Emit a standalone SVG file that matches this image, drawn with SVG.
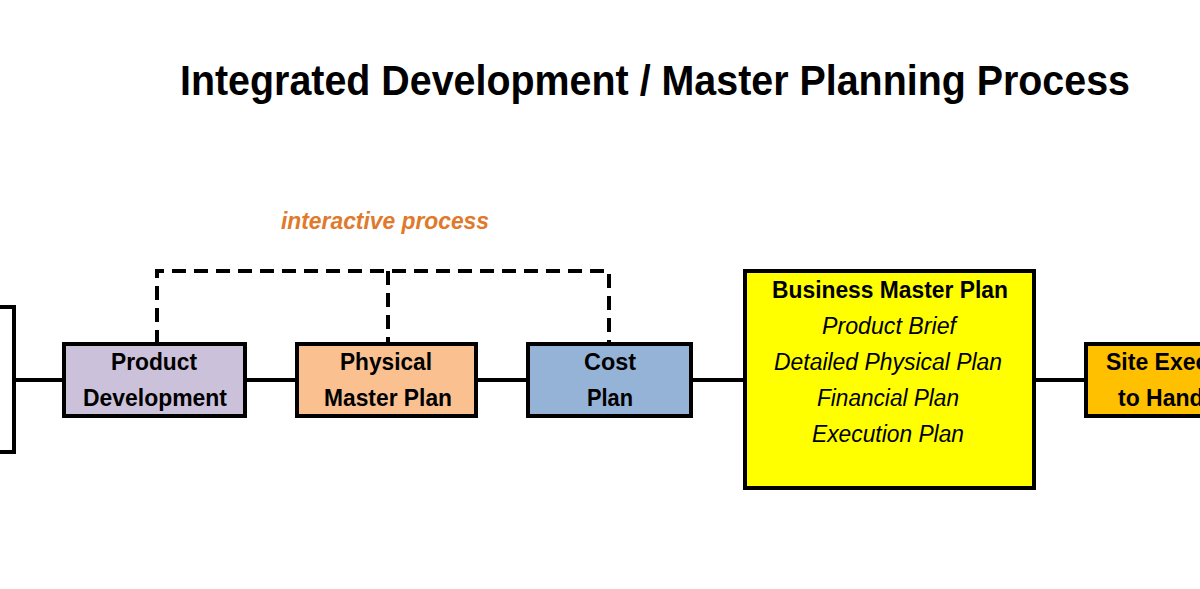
<svg xmlns="http://www.w3.org/2000/svg" width="1200" height="589" viewBox="0 0 1200 589">
<style>
.box{stroke:#000;stroke-width:4}
.t{font-family:"Liberation Sans",Arial,sans-serif;font-weight:bold;font-size:23px;fill:#000;text-anchor:middle}
.i{font-family:"Liberation Sans",Arial,sans-serif;font-style:italic;font-size:23px;fill:#000;text-anchor:middle}
.ln{stroke:#000;stroke-width:4;fill:none}
.dash{stroke:#000;stroke-width:4;fill:none;stroke-dasharray:14,8}
</style>
<rect width="1200" height="589" fill="#fff"/>
<text x="655" y="95" font-family="Liberation Sans,Arial,sans-serif" font-weight="bold" font-size="42" text-anchor="middle" textLength="950" lengthAdjust="spacingAndGlyphs">Integrated Development / Master Planning Process</text>
<text x="385" y="229" font-family="Liberation Sans,Arial,sans-serif" font-weight="bold" font-style="italic" font-size="23" fill="#DF7A2C" text-anchor="middle" textLength="208" lengthAdjust="spacingAndGlyphs">interactive process</text>
<g id="connectors">
<path class="ln" d="M0,307 H14 V452 H0"/>
<path class="ln" d="M14,380 H64"/>
<path class="ln" d="M245,380 H297"/>
<path class="ln" d="M476,380 H528"/>
<path class="ln" d="M691,380 H745"/>
<path class="ln" d="M1034,380 H1086"/>
<path class="dash" d="M157,344 V271 H609 V344"/>
<path class="dash" d="M388,271 V344"/>
</g>
<g id="product-development">
<rect class="box" x="64" y="344" width="181" height="72" fill="#CCC1DA"/>
<text class="t" x="154" y="370" textLength="86" lengthAdjust="spacingAndGlyphs">Product</text>
<text class="t" x="155" y="406" textLength="144" lengthAdjust="spacingAndGlyphs">Development</text>
</g>
<g id="physical-master-plan">
<rect class="box" x="297" y="344" width="179" height="72" fill="#FAC090"/>
<text class="t" x="386" y="370" textLength="92" lengthAdjust="spacingAndGlyphs">Physical</text>
<text class="t" x="388" y="406" textLength="128" lengthAdjust="spacingAndGlyphs">Master Plan</text>
</g>
<g id="cost-plan">
<rect class="box" x="528" y="344" width="163" height="72" fill="#95B3D7"/>
<text class="t" x="610" y="370" textLength="52" lengthAdjust="spacingAndGlyphs">Cost</text>
<text class="t" x="610" y="406" textLength="46" lengthAdjust="spacingAndGlyphs">Plan</text>
</g>
<g id="business-master-plan">
<rect class="box" x="745" y="271" width="289" height="217" fill="#FFFF00"/>
<text class="t" x="890" y="298" textLength="236" lengthAdjust="spacingAndGlyphs">Business Master Plan</text>
<text class="i" x="889" y="334" textLength="134" lengthAdjust="spacingAndGlyphs">Product Brief</text>
<text class="i" x="888" y="370" textLength="228" lengthAdjust="spacingAndGlyphs">Detailed Physical Plan</text>
<text class="i" x="888" y="406" textLength="142" lengthAdjust="spacingAndGlyphs">Financial Plan</text>
<text class="i" x="888" y="442" textLength="152" lengthAdjust="spacingAndGlyphs">Execution Plan</text>
</g>
<g id="site-execution">
<rect class="box" x="1086" y="344" width="130" height="72" fill="#FFC000"/>
<text class="t" x="1106" y="370" style="text-anchor:start">Site Execution</text>
<text class="t" x="1118" y="406" style="text-anchor:start">to Handover</text>
</g>
</svg>
